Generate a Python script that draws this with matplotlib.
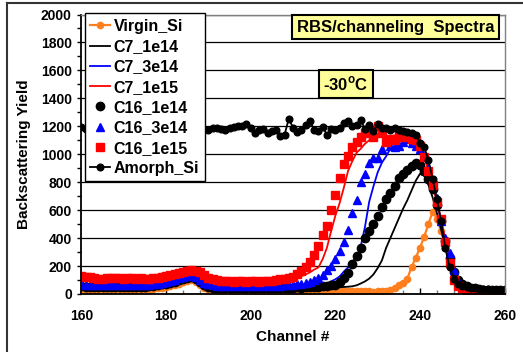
import matplotlib
matplotlib.use("Agg")
import matplotlib.pyplot as plt
from matplotlib.ticker import MultipleLocator
from matplotlib.lines import Line2D
import numpy as np

plt.rcParams['font.family'] = ['Liberation Sans', 'DejaVu Sans']
plt.rcParams['font.weight'] = 'bold'
plt.rcParams['mathtext.fontset'] = 'custom'
plt.rcParams['mathtext.rm'] = 'Liberation Sans:bold'
plt.rcParams['mathtext.bf'] = 'Liberation Sans:bold'

# channels 160..260, one value per channel
channel = np.arange(160, 261)

virgin_si = [35, 32, 30, 28, 30, 32, 28, 30, 33, 30,
             28, 32, 30, 28, 30, 33, 32, 35, 40, 45,
             50, 58, 65, 75, 85, 95, 100, 88, 65, 45,
             35, 30, 25, 22, 25, 22, 20, 22, 25, 20,
             22, 20, 18, 22, 20, 18, 22, 20, 18, 20,
             22, 20, 18, 20, 22, 18, 20, 22, 20, 18,
             20, 18, 22, 20, 18, 20, 22, 20, 18, 16,
             18, 20, 22, 28, 45, 65, 82, 110, 190, 260,
             330, 410, 500, 590, 540, 450, 330, 220, 130, 75,
             45, 30, 22, 18, 15, 14, 12, 12, 10, 10,
             10]

c7_1e14 = [60, 55, 52, 50, 50, 52, 50, 50, 52, 50,
           48, 50, 52, 50, 48, 50, 52, 55, 60, 65,
           70, 78, 85, 95, 105, 115, 118, 105, 80, 60,
           50, 45, 42, 40, 40, 42, 40, 40, 42, 40,
           40, 42, 40, 40, 42, 40, 42, 40, 42, 42,
           42, 40, 42, 44, 42, 44, 45, 44, 45, 46,
           46, 48, 50, 52, 55, 62, 75, 90, 110, 140,
           185, 240, 330, 400, 470, 540, 610, 670, 740, 810,
           860, 845, 780, 690, 580, 460, 340, 230, 140, 80,
           50, 38, 30, 25, 22, 20, 18, 18, 16, 16,
           15]

c7_3e14 = [68, 65, 62, 60, 60, 62, 60, 62, 64, 62,
           60, 62, 64, 62, 60, 62, 64, 68, 72, 78,
           85, 92, 100, 110, 120, 128, 132, 120, 95, 75,
           65, 60, 58, 56, 58, 56, 55, 56, 58, 56,
           55, 56, 58, 56, 55, 58, 56, 58, 60, 60,
           60, 62, 60, 62, 64, 62, 65, 66, 72, 90,
           105, 125, 160, 190, 230, 265, 340, 480, 660, 770,
           870, 940, 985, 1040, 1060, 1070, 1080, 1090, 1090, 1075,
           1040, 980, 900, 790, 660, 520, 380, 250, 150, 90,
           55, 40, 32, 26, 22, 20, 18, 17, 16, 16,
           15]

c7_1e15 = [120, 115, 112, 110, 108, 110, 112, 110, 108, 110,
           108, 110, 112, 110, 108, 110, 112, 115, 120, 125,
           130, 138, 145, 152, 160, 168, 170, 160, 140, 120,
           105, 98, 92, 90, 88, 86, 88, 86, 85, 86,
           88, 86, 88, 90, 92, 95, 98, 100, 105, 110,
           115, 120, 128, 140, 155, 175, 190, 250, 330, 450,
           560, 650, 760, 880, 950, 1010, 1040, 1075, 1100, 1110,
           1120, 1125, 1130, 1130, 1135, 1135, 1130, 1120, 1110, 1090,
           1060, 990, 880, 780, 660, 530, 380, 240, 130, 75,
           45, 35, 28, 24, 20, 18, 17, 16, 15, 15,
           15]

c16_1e14 = [58, 52, 50, 48, 50, 48, 50, 52, 48, 50,
            48, 50, 52, 48, 50, 52, 55, 58, 62, 68,
            72, 80, 88, 98, 108, 115, 120, 108, 85, 62,
            52, 46, 42, 40, 42, 40, 40, 42, 40, 42,
            40, 42, 40, 42, 44, 42, 44, 45, 44, 46,
            46, 48, 46, 48, 50, 50, 52, 55, 58, 62,
            65, 85, 112, 150, 215, 275, 330, 400, 450, 500,
            560, 620, 680, 720, 770, 830, 860, 890, 915, 940,
            920, 880, 820, 750, 640, 520, 380, 260, 160, 100,
            70, 55, 45, 40, 35, 32, 30, 28, 28, 26,
            25]

c16_3e14 = [70, 66, 64, 62, 62, 64, 62, 64, 66, 64,
            62, 64, 66, 64, 62, 64, 66, 70, 75, 80,
            88, 95, 102, 112, 122, 130, 135, 122, 98, 78,
            68, 62, 60, 58, 60, 58, 57, 58, 60, 58,
            57, 58, 60, 58, 57, 60, 58, 60, 62, 62,
            64, 68, 74, 80, 88, 100, 115, 135, 170, 200,
            250, 305, 370, 460, 580, 670, 800, 860, 940, 970,
            975, 1040, 1090, 1060, 1055, 1060, 1090, 1110, 1080, 1060,
            1040, 990, 900, 780, 690, 520, 400, 290, 170, 95,
            60, 45, 35, 30, 26, 24, 22, 20, 20, 18,
            18]

c16_1e15 = [130, 125, 120, 115, 110, 108, 112, 115, 118, 112,
            108, 115, 112, 110, 115, 108, 110, 115, 118, 122,
            128, 135, 140, 148, 158, 165, 172, 168, 155, 135,
            118, 108, 100, 95, 92, 90, 88, 92, 90, 88,
            90, 92, 88, 90, 95, 95, 100, 105, 110, 115,
            120, 140, 165, 195, 230, 280, 340, 420, 490, 600,
            710, 830, 930, 990, 1050, 1090, 1120, 1150, 1165, 1120,
            1200, 1150, 1085, 1110, 1100, 1130, 1125, 1130, 1110, 1100,
            1060, 980, 880, 780, 660, 540, 370, 220, 100, 60,
            40, 32, 26, 22, 20, 18, 18, 16, 16, 15,
            15]

amorph_si = [1195, 1180, 1175, 1190, 1185, 1180, 1170, 1175, 1185, 1180,
             1165, 1175, 1185, 1170, 1180, 1190, 1175, 1185, 1180, 1170,
             1175, 1185, 1180, 1190, 1195, 1175, 1170, 1185, 1180, 1175,
             1170, 1185, 1190, 1180, 1175, 1185, 1195, 1200, 1205, 1220,
             1190, 1150, 1170, 1180, 1150, 1165, 1170, 1128, 1140, 1255,
             1190, 1160, 1175, 1210, 1235, 1175, 1165, 1195, 1140, 1180,
             1170, 1185, 1225, 1235, 1200, 1210, 1245, 1180, 1210, 1165,
             1215, 1190, 1185, 1175, 1190, 1175, 1165, 1160, 1150, 1140,
             1080, 1050, 960, 820, 680, 520, 330, 190, 110, 70,
             55, 48, 42, 40, 38, 36, 34, 32, 32, 30,
             30]

ORANGE = '#FF7F1E'
BLUE = '#0000FF'
RED = '#FF0000'

fig = plt.figure(figsize=(5.23, 3.52), dpi=100)
ax = fig.add_axes([0.1558, 0.1648, 0.809, 0.794])

ax.plot(channel, virgin_si, '-o', color=ORANGE, lw=1.6, ms=4.5, label='Virgin_Si')
ax.plot(channel, c7_1e14, '-', color='black', lw=1.3, label='C7_1e14')
ax.plot(channel, c7_3e14, '-', color=BLUE, lw=1.3, label='C7_3e14')
ax.plot(channel, c7_1e15, '-', color=RED, lw=1.3, label='C7_1e15')
ax.plot(channel, c16_1e14, 'o', color='black', ms=6, label='C16_1e14')
ax.plot(channel, c16_3e14, '^', color=BLUE, ms=6.3, label='C16_3e14')
ax.plot(channel, c16_1e15, 's', color=RED, ms=5.5, label='C16_1e15')
ax.plot(channel, amorph_si, '-o', color='black', lw=1.3, ms=4.8, label='Amorph_Si')

ax.set_xlim(160, 260)
ax.set_ylim(0, 2000)
ax.xaxis.set_major_locator(MultipleLocator(20))
ax.xaxis.set_minor_locator(MultipleLocator(4))
ax.yaxis.set_major_locator(MultipleLocator(200))
ax.yaxis.set_minor_locator(MultipleLocator(100))
ax.tick_params(axis='x', which='major', direction='in', length=4, width=1, pad=11, labelsize=10)
ax.tick_params(axis='x', which='minor', direction='in', length=3, width=1, color='#777777')
ax.tick_params(axis='y', which='major', direction='out', length=3, width=1, pad=4, labelsize=10)
ax.tick_params(axis='y', which='minor', direction='out', length=3, width=1)

ax.grid(axis='y', which='major', color='black', lw=0.9)
ax.set_axisbelow(True)
for s in ('top', 'right'):
    ax.spines[s].set_color('#808080')
    ax.spines[s].set_linewidth(1)
for s in ('left', 'bottom'):
    ax.spines[s].set_linewidth(1.3)

ax.set_xlabel('Channel #', fontsize=11, fontweight='bold', labelpad=5)
ax.set_ylabel('Backscattering Yield', fontsize=11, fontweight='bold', labelpad=7)

leg = ax.legend(loc='upper left', bbox_to_anchor=(0.008, 1.004), borderaxespad=0,
                fontsize=11.5, fancybox=False, framealpha=1, edgecolor='black',
                labelspacing=0.33, handlelength=1.2, handletextpad=0.25,
                borderpad=0.35, numpoints=1)
leg.get_frame().set_linewidth(1)

box = dict(boxstyle='square,pad=0.28', facecolor='#FFFF99', edgecolor='black', lw=1.5)
ax.text(0.743, 0.955, 'RBS/channeling  Spectra', transform=ax.transAxes,
        ha='center', va='center', fontsize=12, fontweight='bold', bbox=box)
ax.text(0.625, 0.753, '-30$^{\\mathrm{o}}$C', transform=ax.transAxes,
        ha='center', va='center', fontsize=12, fontweight='bold', bbox=box)

# outer frame lines (left and top)
fig.add_artist(Line2D([7 / 523, 7 / 523], [0, 1 - 3 / 352], color='#333333', lw=1.5))
fig.add_artist(Line2D([7 / 523, 1], [1 - 3 / 352, 1 - 3 / 352], color='#333333', lw=1.5))

fig.savefig('out.png', dpi=100)
